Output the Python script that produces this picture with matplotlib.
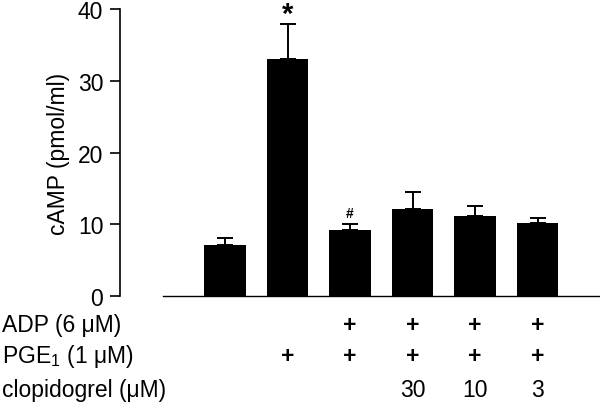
import numpy as np
import matplotlib
matplotlib.use("Agg")
import matplotlib.pyplot as plt
from matplotlib.transforms import blended_transform_factory

plt.rcParams['font.family'] = ['Liberation Sans', 'DejaVu Sans']
plt.rcParams['mathtext.fontset'] = 'custom'
plt.rcParams['mathtext.rm'] = 'Liberation Sans'
plt.rcParams['mathtext.it'] = 'Liberation Sans'

# data
camp_mean = [7.1, 33.0, 9.2, 12.1, 11.2, 10.2]
camp_err = [1.0, 5.0, 0.8, 2.4, 1.4, 0.7]
marks = ["", "*", "#", "", "", ""]
adp_row = ["", "", "+", "+", "+", "+"]
pge_row = ["", "+", "+", "+", "+", "+"]
clop_row = ["", "", "", "30", "10", "3"]
row_names = ["ADP (6 μM)", "PGE$_1$ (1 μM)", "clopidogrel (μM)"]

x = np.arange(len(camp_mean))

fig = plt.figure(figsize=(6, 4.06), dpi=100)
ax = fig.add_axes([0.2, 0.268, 0.8, 0.707])

ax.bar(x, camp_mean, width=0.67, color='black')
ax.errorbar(x, camp_mean, yerr=[np.zeros(len(camp_err)), camp_err], fmt='none',
            ecolor='black', elinewidth=1.4, capsize=5.5, capthick=1.4)

# significance marks
for xi, m, e, v in zip(x, marks, camp_err, camp_mean):
    if m == "*":
        ax.annotate(m, (xi, v + e), xytext=(0, -3), textcoords='offset points',
                    ha='center', va='bottom', fontsize=21, fontweight='bold')
    elif m == "#":
        ax.annotate(m, (xi, v + e), xytext=(0, 3), textcoords='offset points',
                    ha='center', va='bottom', fontsize=10, fontweight='bold')

ax.set_xlim(-1.68, 6.0)
ax.set_ylim(0, 40)
ax.set_yticks([0, 10, 20, 30, 40])
ax.tick_params(axis='y', labelsize=16.5, length=7, width=1.2, direction='out', pad=5)
ax.set_xticks([])
ax.set_ylabel("cAMP (pmol/ml)", fontsize=16.5, labelpad=6)
for s in ['top', 'right']:
    ax.spines[s].set_visible(False)
ax.spines['left'].set_linewidth(1.2)
ax.spines['bottom'].set_linewidth(1.0)
ax.spines['bottom'].set_bounds(-1.0, 6.0)

# treatment table under the bars
trans = blended_transform_factory(ax.transData, fig.transFigure)
row_y = [0.199, 0.121, 0.039]
for name, ry in zip(row_names, row_y):
    fig.text(0.003, ry, name, fontsize=16.5, va='center', ha='left')
for row, ry in zip([adp_row, pge_row, clop_row], row_y):
    for xi, s in zip(x, row):
        if s:
            ax.text(xi, ry, s, transform=trans, ha='center', va='center',
                    fontsize=16.5, clip_on=False,
                    fontweight='bold' if s == '+' else 'normal')

plt.savefig("out.png", dpi=100)
